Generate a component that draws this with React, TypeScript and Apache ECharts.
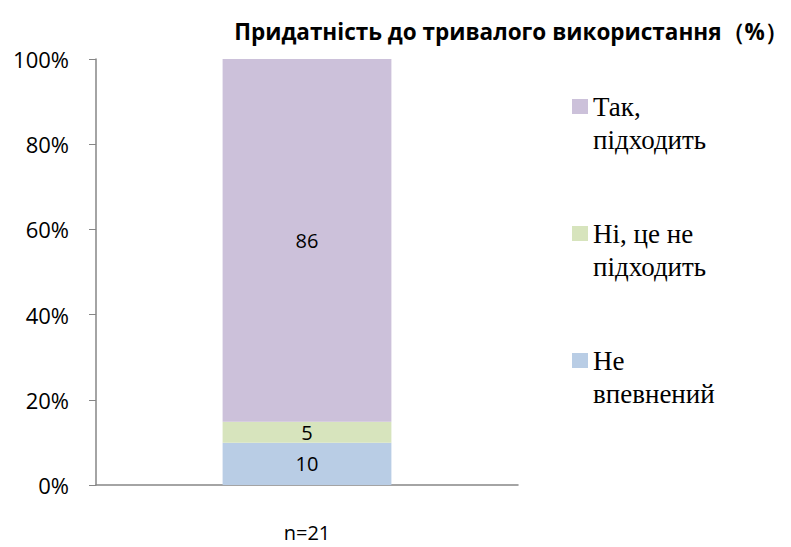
import React, { useEffect, useRef } from "react";
import * as echarts from "echarts";

const categories = ["n=21"];
const legendOrder = ["Так,\nпідходить", "Ні, це не\nпідходить", "Не\nвпевнений"];
const seriesNames = ["Не\nвпевнений", "Ні, це не\nпідходить", "Так,\nпідходить"];
const notSure = [10];
const notSuitable = [5];
const suitable = [86];
const yTicks = [0, 20, 40, 60, 80, 100];
const colors = ["#B9CDE5", "#D7E4BD", "#CCC1DA"];
const title = "Придатність до тривалого використання（%）";
const serif = "serif";

export default function App() {
  const ref = useRef<HTMLDivElement>(null);
  useEffect(() => {
    if (!ref.current) return;
    const chart = echarts.init(ref.current, undefined, { renderer: "svg" });
    const raw = [notSure, notSuitable, suitable];
    const totals = categories.map((_, i) => raw.reduce((s, a) => s + a[i], 0));
    const series = raw.map((arr, si) => ({
      name: seriesNames[si],
      type: "bar",
      stack: "total",
      barWidth: "40%",
      itemStyle: { color: colors[si] },
      label: {
        show: true,
        position: "inside",
        color: "#000",
        fontFamily: "Open Sans",
        fontSize: 20,
        formatter: (p: any) => String(raw[si][p.dataIndex]),
      },
      data: arr.map((v, i) => (v / totals[i]) * 100),
    }));
    chart.setOption({
      animation: false,
      title: {
        text: title,
        left: 506,
        top: 15,
        textAlign: "center",
        textStyle: { fontFamily: "Open Sans", fontWeight: "bold", fontSize: 22.5, color: "#000" },
      },
      grid: { left: 96, right: 273, top: 59, bottom: 62 },
      legend: {
        orient: "vertical",
        left: 567,
        top: 19,
        itemWidth: 16,
        itemHeight: 15,
        itemGap: -38,
        icon: "rect",
        data: legendOrder,
        selectedMode: false,
        formatter: (name: string) => "\n\n" + name + "\n",
        textStyle: {
          fontFamily: serif,
          fontSize: 27,
          lineHeight: 33,
          color: "#000",
        },
      },
      xAxis: {
        type: "category",
        data: categories,
        axisLine: { lineStyle: { color: "#868686", width: 1.5 } },
        axisTick: { show: false },
        axisLabel: { color: "#000", fontFamily: "Open Sans", fontSize: 20, margin: 37 },
      },
      yAxis: {
        type: "value",
        min: yTicks[0],
        max: yTicks[yTicks.length - 1],
        interval: 20,
        splitLine: { show: false },
        axisLine: { show: true, lineStyle: { color: "#868686", width: 1.5 } },
        axisTick: { show: true, length: 7, lineStyle: { color: "#868686" } },
        axisLabel: {
          color: "#000",
          fontFamily: "Open Sans",
          fontSize: 22,
          margin: 27,
          formatter: "{value}%",
        },
      },
      series,
    });
    return () => chart.dispose();
  }, []);
  return <div ref={ref} style={{ width: 791, height: 547, position: "absolute", left: 0, top: 0 }} />;
}
